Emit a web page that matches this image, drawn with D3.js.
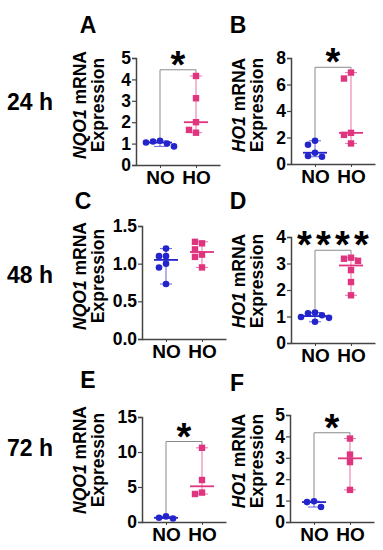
<!DOCTYPE html>
<html>
<head>
<meta charset="utf-8">
<script src="https://cdn.jsdelivr.net/npm/d3@7"></script>
<style>
  html, body { margin: 0; padding: 0; background: #fff; }
  text { font-family: "Liberation Sans", Arial, sans-serif; font-weight: bold; fill: #000; }
</style>
</head>
<body>
<div id="chart"></div>
<script>
// Datos de cada panel
const groups = ["NO", "HO"];
const panelIds = ["A", "B", "C", "D", "E", "F"];
const geneNames = ["NQO1", "HO1", "NQO1", "HO1", "NQO1", "HO1"];
const timeLabels = ["24 h", "48 h", "72 h"];

const noValues = [
  [1.13, 1.1, 1.0, 1.05, 0.87],
  [1.75, 1.45, 0.85, 0.6, 0.55],
  [1.2, 1.1, 1.1, 1.0, 0.95, 0.73],
  [1.15, 1.12, 1.05, 0.98, 0.95, 0.8],
  [0.8, 0.6, 0.5],
  [0.97, 0.93, 0.7]
];
const hoValues = [
  [4.16, 3.12, 2.0, 1.51, 1.64],
  [6.9, 6.45, 2.35, 2.2, 1.55],
  [1.27, 1.29, 1.19, 1.12, 1.09, 0.95],
  [3.22, 3.18, 3.1, 2.75, 2.3, 1.8],
  [10.6, 6.0, 4.2, 4.0],
  [3.9, 3.15, 2.8, 1.5]
];
const yMax = [5, 8, 1.5, 4, 15, 5];
const yTicks = [
  [0, 1, 2, 3, 4, 5],
  [0, 2, 4, 6, 8],
  [0, 0.5, 1.0, 1.5],
  [0, 1, 2, 3, 4],
  [0, 5, 10, 15],
  [0, 1, 2, 3, 4, 5]
];
const tickFormats = ["d", "d", ".1f", "d", "d", "d"];
const sigLabels = ["*", "*", "", "****", "*", "*"];
const bracketTops = [4.45, 7.3, null, 3.5, 11.5, 4.17];

// Posiciones de la figura
const W = 383, H = 550;
const axisX = [136, 291, 142, 291, 142, 290];
const axisTop = [58, 58, 226, 237, 417, 415];
const axisBottom = [165, 164, 339, 343, 522, 522];
const titlePos = [[88, 25], [238, 25], [83, 201], [238, 201], [88, 380], [237, 383]];
const labelCols = [[80, 101], [239, 260]];
const labelMidY = [105, 105, 276, 281, 460, 461];
const rowLabelY = [102, 275, 448];

const colors = { NO: "#2424cc", HO: "#e0347f" };
const axisColor = "#444";
const bracketColor = "#8a8a8a";

const svg = d3.select("#chart").append("svg")
  .attr("width", W).attr("height", H);

// Etiquetas de tiempo
svg.selectAll("text.row")
  .data(timeLabels)
  .enter().append("text")
  .attr("class", "row")
  .attr("x", 7)
  .attr("y", (d, i) => rowLabelY[i])
  .attr("dy", "0.36em")
  .attr("font-size", 23)
  .text(d => d);

// Reparte horizontalmente los puntos que se solapan
const swarm = (vals, y) => {
  const placed = [];
  const offsets = [0, -7, 7, -14, 14, -21, 21];
  return vals.map(v => {
    const py = y(v);
    let off = 0;
    for (const o of offsets) {
      if (placed.every(p => Math.hypot(p.x - o, p.y - py) >= 7)) { off = o; break; }
    }
    placed.push({ x: off, y: py });
    return { v, dx: off, y: py };
  });
};

panelIds.forEach((id, i) => {
  const col = i % 2;
  const g = svg.append("g");
  const x0 = axisX[i];

  const y = d3.scaleLinear().domain([0, yMax[i]]).range([axisBottom[i], axisTop[i]]);
  const x = d3.scalePoint().domain(groups).range([x0, x0 + 84]).padding(0.667);

  // Eje Y
  const yAxis = g.append("g")
    .attr("transform", `translate(${x0},0)`)
    .call(d3.axisLeft(y).tickValues(yTicks[i]).tickSize(4).tickPadding(1)
      .tickFormat(d3.format(tickFormats[i])));
  yAxis.select(".domain").attr("stroke", axisColor).attr("stroke-width", 1.5);
  yAxis.selectAll(".tick line").attr("stroke", axisColor).attr("stroke-width", 1.2);
  yAxis.selectAll(".tick text")
    .attr("font-size", 17.5).attr("font-family", null).attr("fill", "#000");

  // Eje X
  const xAxis = g.append("g")
    .attr("transform", `translate(0,${axisBottom[i]})`)
    .call(d3.axisBottom(x).tickSize(3).tickPadding(3).tickSizeOuter(0));
  xAxis.select(".domain").attr("stroke", axisColor).attr("stroke-width", 1.5);
  xAxis.selectAll(".tick line").attr("stroke", axisColor);
  xAxis.selectAll(".tick text")
    .attr("font-size", 19).attr("font-family", null).attr("fill", "#000");

  // Título del panel
  g.append("text")
    .attr("x", titlePos[i][0]).attr("y", titlePos[i][1])
    .attr("dy", "0.36em")
    .attr("text-anchor", "middle")
    .attr("font-size", 23)
    .text(id);

  // Etiqueta del eje Y
  const lab1 = g.append("text")
    .attr("transform", `translate(${labelCols[col][0] + 6},${labelMidY[i]}) rotate(-90)`)
    .attr("text-anchor", "middle")
    .attr("font-size", 17.5);
  lab1.append("tspan").attr("font-style", "italic").text(geneNames[i]);
  lab1.append("tspan").text(" mRNA");
  g.append("text")
    .attr("transform", `translate(${labelCols[col][1] + 3},${labelMidY[i]}) rotate(-90)`)
    .attr("text-anchor", "middle")
    .attr("font-size", 17.5)
    .text("Expression");

  // Corchete de significancia
  if (bracketTops[i] !== null) {
    const top = y(bracketTops[i]);
    const xa = x("NO"), xb = x("HO");
    const ya = y(d3.max(noValues[i])) - 3, yb = y(d3.max(hoValues[i])) - 3;
    g.append("path")
      .attr("d", `M${xa},${ya}V${top}H${xb}V${yb}`)
      .attr("fill", "none")
      .attr("stroke", bracketColor)
      .attr("stroke-width", 1);
    const many = sigLabels[i].length > 1;
    g.append("text")
      .attr("x", (xa + xb) / 2 + (many ? 2 : 0))
      .attr("y", top + 8)
      .attr("text-anchor", "middle")
      .attr("font-size", 38)
      .attr("letter-spacing", many ? 4.2 : 0)
      .text(sigLabels[i]);
  }

  // Grupos: mediana, rango y puntos
  [["NO", noValues[i]], ["HO", hoValues[i]]].forEach(([grp, vals]) => {
    const cx = x(grp);
    const c = colors[grp];
    const lo = d3.min(vals), hi = d3.max(vals), med = d3.median(vals);
    const eg = g.append("g").attr("stroke", c).attr("fill", "none");
    eg.append("line").attr("x1", cx).attr("x2", cx).attr("y1", y(lo)).attr("y2", y(hi))
      .attr("stroke-width", 1).attr("stroke-opacity", 0.7);
    [lo, hi].forEach(v => {
      eg.append("line").attr("x1", cx - 6).attr("x2", cx + 6).attr("y1", y(v)).attr("y2", y(v))
        .attr("stroke-width", 1).attr("stroke-opacity", 0.7);
    });
    eg.append("line").attr("x1", cx - 12).attr("x2", cx + 12).attr("y1", y(med)).attr("y2", y(med))
      .attr("stroke-width", 1.8);

    const pts = swarm(vals, y);
    if (grp === "NO") {
      g.selectAll(null).data(pts).enter().append("circle")
        .attr("cx", d => cx + d.dx).attr("cy", d => d.y).attr("r", 3.3)
        .attr("fill", c);
    } else {
      g.selectAll(null).data(pts).enter().append("rect")
        .attr("x", d => cx + d.dx - 3.2).attr("y", d => d.y - 3.2)
        .attr("width", 6.4).attr("height", 6.4)
        .attr("fill", c);
    }
  });
});
</script>
</body>
</html>
